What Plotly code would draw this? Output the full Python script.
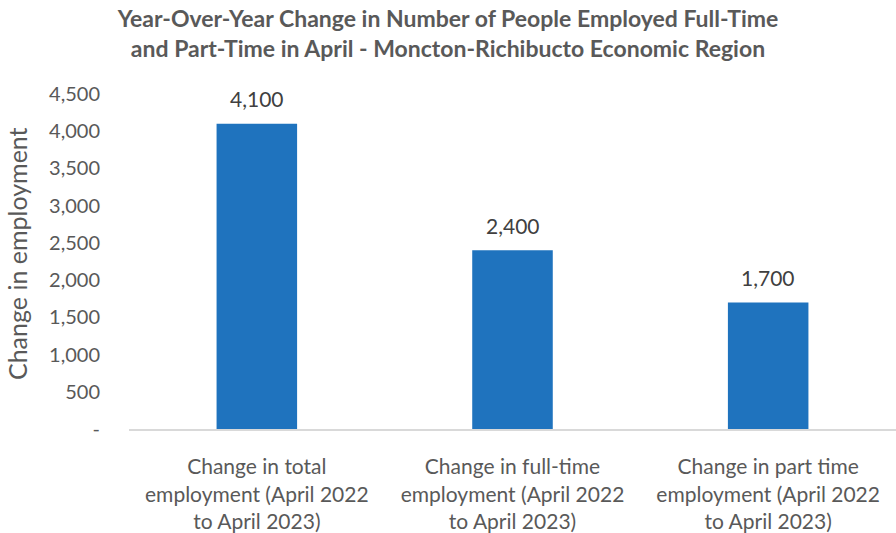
import plotly.graph_objects as go

categories = [
    "Change in total<br>employment (April 2022<br>to April 2023)",
    "Change in full-time<br>employment (April 2022<br>to April 2023)",
    "Change in part time<br>employment (April 2022<br>to April 2023)",
]
values = [4100, 2400, 1700]
tick_vals = [0, 500, 1000, 1500, 2000, 2500, 3000, 3500, 4000, 4500]
tick_text = ["-", "500", "1,000", "1,500", "2,000", "2,500", "3,000", "3,500", "4,000", "4,500"]

FONT = "Lato, Open Sans, sans-serif"
GRAY = "#595959"

fig = go.Figure(go.Bar(
    x=categories, y=values,
    marker=dict(color="#1F73BE", line=dict(width=0)),
    width=0.315,
    cliponaxis=False,
))

for c, v in zip(categories, values):
    fig.add_annotation(
        x=c, y=v, xref="x", yref="y", text=f"{v:,}", showarrow=False,
        yanchor="middle", yshift=25,
        font=dict(size=21, color="#404040", family=FONT),
    )

fig.add_annotation(
    xref="paper", yref="paper", x=(17 - 129) / 767, y=(431 - 255) / 337,
    text="Change in employment", textangle=-90, showarrow=False,
    xanchor="center", yanchor="middle",
    font=dict(size=25, color=GRAY, family=FONT),
)

fig.update_layout(
    width=896, height=533,
    margin=dict(l=129, r=0, t=94, b=102),
    paper_bgcolor="white", plot_bgcolor="white",
    font=dict(family=FONT, color=GRAY),
    title=dict(
        text="<b>Year-Over-Year Change in Number of People Employed Full-Time<br>and Part-Time in April - Moncton-Richibucto Economic Region</b>",
        x=0.5, xanchor="center", y=1 - 27 / 533, yanchor="middle",
        font=dict(size=23, color=GRAY, family=FONT),
    ),
    bargap=0.685,
    showlegend=False,
)
fig.update_xaxes(
    showline=True, linecolor="#D9D9D9", linewidth=2,
    ticks="", showgrid=False, ticklabelstandoff=18,
    tickfont=dict(size=21, color=GRAY, family=FONT),
)
fig.update_yaxes(
    range=[0, 4500], tickvals=tick_vals, ticktext=tick_text,
    showgrid=False, zeroline=False, showline=False, ticks="",
    ticklabelstandoff=28,
    tickfont=dict(size=20, color=GRAY, family=FONT),
)

fig.write_html("out.html")
